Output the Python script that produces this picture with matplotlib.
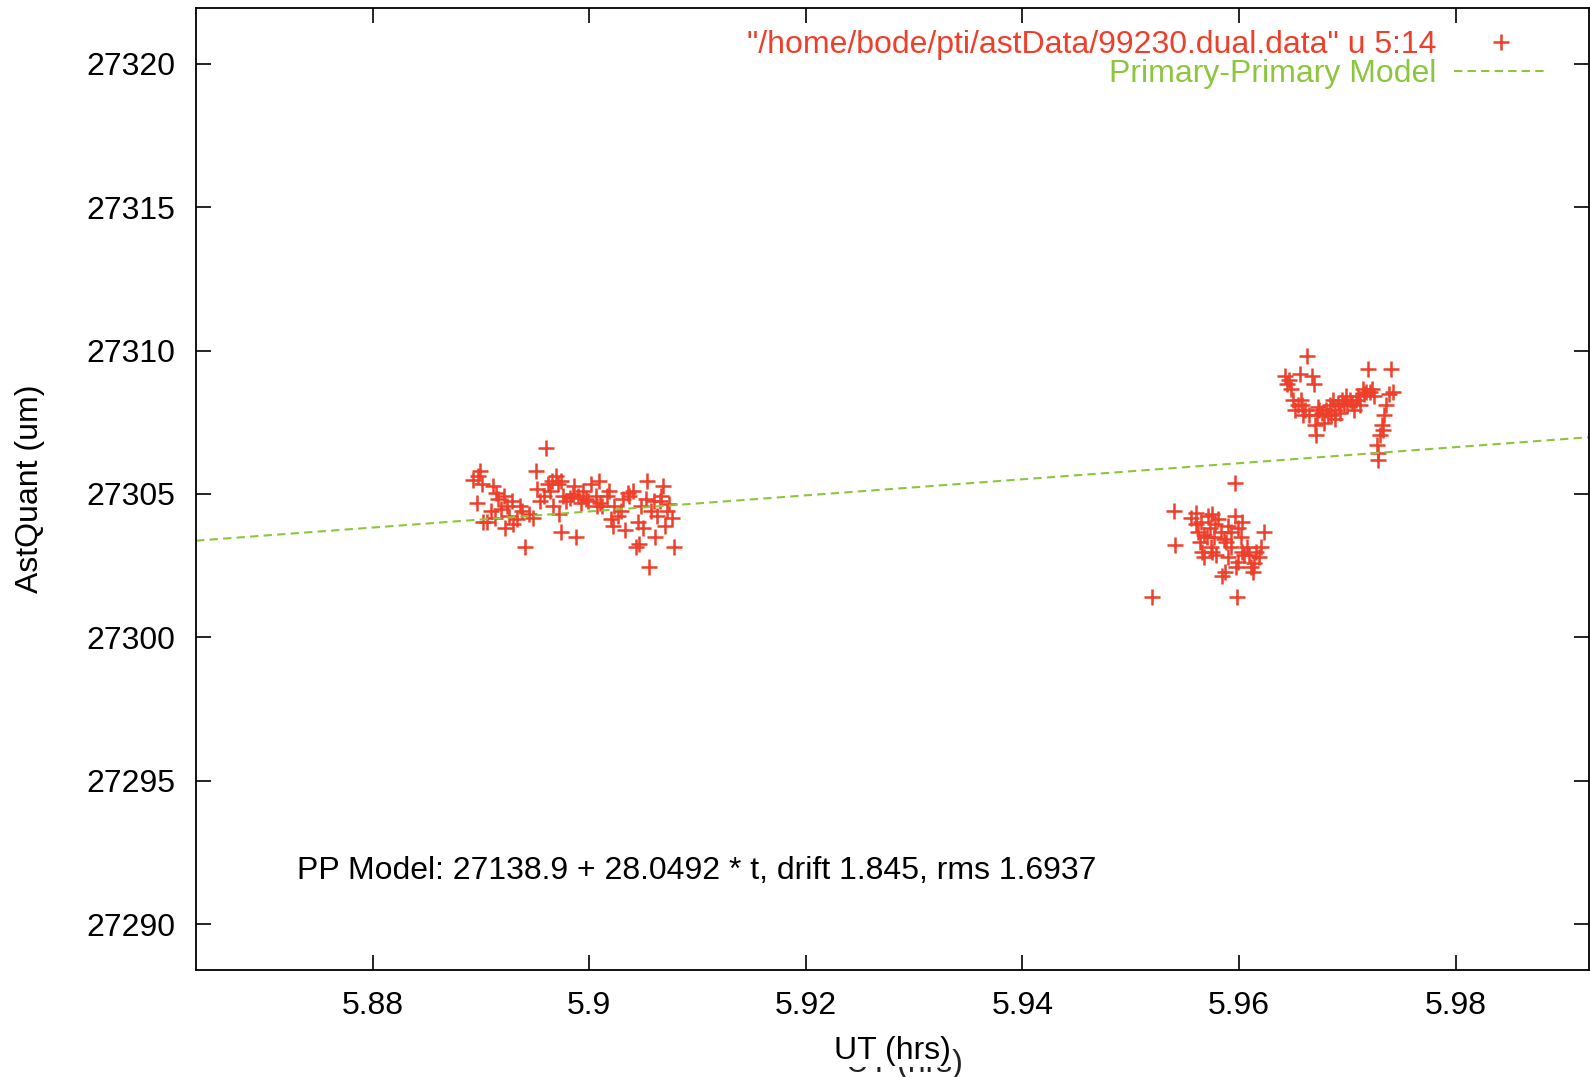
import matplotlib
matplotlib.use('Agg')
import matplotlib.pyplot as plt
import numpy as np

plt.rcParams['font.family'] = ['Liberation Sans', 'DejaVu Sans']

# astrometric quantity vs UT, three groups of scans
ut1 = [5.8893, 5.8899, 5.8897, 5.8901, 5.8896, 5.8902, 5.8906, 5.8911, 5.8914, 5.8916,
       5.8909, 5.8913, 5.8921, 5.8924, 5.8919, 5.8926, 5.8922, 5.8930, 5.8933, 5.8929,
       5.8936, 5.8941, 5.8938, 5.8944, 5.8948, 5.8951, 5.8952, 5.8955, 5.8958, 5.8960,
       5.8962, 5.8966, 5.8964, 5.8969, 5.8971, 5.8974, 5.8967, 5.8972, 5.8976, 5.8974,
       5.8979, 5.8982, 5.8985, 5.8986, 5.8988, 5.8990, 5.8992, 5.8994, 5.8997, 5.8999,
       5.9002, 5.9006, 5.9009, 5.9007, 5.9010, 5.9012, 5.9016, 5.9018, 5.9020, 5.9022,
       5.9023, 5.9027, 5.9029, 5.9031, 5.9036, 5.9037, 5.9040, 5.9043, 5.9046, 5.9045,
       5.9048, 5.9050, 5.9052, 5.9053, 5.9055, 5.9057, 5.9060, 5.9063, 5.9065, 5.9066,
       5.9068, 5.9070, 5.9072, 5.9074, 5.9076, 5.9078, 5.9061, 5.9033]
aq1 = [27305.50, 27305.81, 27305.64, 27305.35, 27304.68, 27304.04, 27304.04, 27305.28, 27305.04, 27304.82,
       27304.40, 27304.15, 27304.93, 27304.58, 27304.47, 27304.22, 27303.80, 27303.97, 27304.12, 27304.75,
       27304.58, 27303.16, 27304.40, 27304.29, 27304.15, 27305.81, 27305.18, 27304.75, 27304.93, 27306.59,
       27305.35, 27305.46, 27305.11, 27305.64, 27305.35, 27305.46, 27304.58, 27304.29, 27304.93, 27303.69,
       27304.75, 27304.86, 27305.00, 27305.28, 27303.51, 27304.93, 27304.68, 27305.11, 27304.82, 27304.75,
       27305.35, 27304.93, 27305.46, 27304.58, 27304.68, 27304.58, 27304.93, 27305.11, 27304.12, 27303.87,
       27304.58, 27304.22, 27304.40, 27304.82, 27305.04, 27304.93, 27305.11, 27303.16, 27303.27, 27304.04,
       27304.58, 27303.80, 27304.82, 27305.46, 27302.45, 27304.40, 27304.75, 27304.22, 27304.75, 27304.93,
       27305.28, 27303.87, 27304.40, 27304.65, 27304.15, 27303.16, 27303.51, 27303.76]

ut2 = [5.9520, 5.9540, 5.9541, 5.9596, 5.9598, 5.9560, 5.9556, 5.9565, 5.9571, 5.9575,
       5.9578, 5.9581, 5.9562, 5.9568, 5.9570, 5.9573, 5.9577, 5.9583, 5.9586, 5.9590,
       5.9593, 5.9596, 5.9599, 5.9602, 5.9603, 5.9566, 5.9568, 5.9575, 5.9579, 5.9584,
       5.9590, 5.9593, 5.9597, 5.9599, 5.9603, 5.9605, 5.9607, 5.9609, 5.9611, 5.9613,
       5.9614, 5.9616, 5.9618, 5.9623, 5.9620, 5.9587, 5.9574, 5.9564, 5.9560, 5.9588]
aq2 = [27301.39, 27304.40, 27303.23, 27305.39, 27301.39, 27304.33, 27304.15, 27304.04, 27304.22, 27304.29,
       27303.94, 27304.12, 27303.69, 27303.58, 27303.51, 27303.80, 27303.51, 27303.66, 27303.44, 27303.87,
       27303.69, 27304.22, 27303.80, 27303.51, 27304.04, 27302.98, 27302.81, 27302.98, 27302.88, 27302.13,
       27302.81, 27303.16, 27302.45, 27302.63, 27302.98, 27302.88, 27303.16, 27302.88, 27302.45, 27302.27,
       27302.59, 27302.98, 27302.81, 27303.69, 27303.16, 27302.27, 27303.16, 27303.34, 27303.94, 27303.34]

ut3 = [5.9642, 5.9644, 5.9646, 5.9648, 5.9650, 5.9652, 5.9654, 5.9656, 5.9658, 5.9659,
       5.9661, 5.9663, 5.9665, 5.9667, 5.9669, 5.9670, 5.9671, 5.9672, 5.9674, 5.9677,
       5.9680, 5.9682, 5.9684, 5.9685, 5.9687, 5.9689, 5.9691, 5.9693, 5.9695, 5.9697,
       5.9699, 5.9700, 5.9702, 5.9704, 5.9706, 5.9708, 5.9710, 5.9712, 5.9714, 5.9715,
       5.9717, 5.9719, 5.9721, 5.9723, 5.9725, 5.9727, 5.9728, 5.9730, 5.9732, 5.9734,
       5.9736, 5.9738, 5.9740, 5.9742, 5.9728, 5.9733, 5.9673, 5.9657, 5.9678, 5.9689]
aq3 = [27309.11, 27308.82, 27308.96, 27308.65, 27308.29, 27307.94, 27308.11, 27309.18, 27308.11, 27307.76,
       27307.94, 27309.81, 27307.76, 27309.11, 27308.82, 27307.41, 27307.05, 27307.76, 27307.94, 27307.83,
       27307.94, 27307.76, 27308.11, 27307.76, 27308.29, 27307.94, 27308.19, 27307.83, 27308.29, 27308.11,
       27308.40, 27308.11, 27308.29, 27308.19, 27307.94, 27308.29, 27308.40, 27308.11, 27308.65, 27308.47,
       27308.54, 27309.35, 27308.54, 27308.65, 27308.40, 27306.70, 27306.17, 27307.05, 27307.41, 27307.76,
       27308.11, 27308.47, 27309.35, 27308.54, 27306.42, 27307.23, 27308.04, 27308.29, 27307.48, 27307.62]

ut = np.array(ut1 + ut2 + ut3)
aq = np.array(aq1 + aq2 + aq3)

# primary-primary model fit
pp_a = 27138.9
pp_b = 28.0492
pp_drift = 1.845
pp_rms = 1.6937

xlo, xhi = 5.8637, 5.9923
ylo, yhi = 27288.4, 27321.95

red = '#ee3f2a'
green = '#8cc63f'
fs = 23

fig = plt.figure(figsize=(15.9, 10.77), dpi=100)
ax = fig.add_axes([0.1233, 0.0994, 0.8760, 0.8932])

ax.plot(ut, aq, '+', color=red, markersize=12, markeredgewidth=1.8,
        label='"/home/bode/pti/astData/99230.dual.data" u 5:14')
t = np.linspace(xlo, xhi, 200)
ax.plot(t, pp_a + pp_b * t, '--', color=green, linewidth=1.5, dashes=(4, 2.5),
        label='Primary-Primary Model')

ax.set_xlim(xlo, xhi)
ax.set_ylim(ylo, yhi)
ax.set_xticks([5.88, 5.9, 5.92, 5.94, 5.96, 5.98])
ax.set_xticklabels(['5.88', '5.9', '5.92', '5.94', '5.96', '5.98'])
ax.set_yticks([27290, 27295, 27300, 27305, 27310, 27315, 27320])
ax.tick_params(direction='in', length=11, width=1.2, top=True, right=True,
               labelsize=fs, pad=15)
for s in ax.spines.values():
    s.set_linewidth(1.3)

ax.set_ylabel('AstQuant (um)', fontsize=fs, labelpad=30)
xl = ax.set_xlabel('UT (hrs)', fontsize=fs, labelpad=11)
xl.set_bbox(dict(facecolor='white', edgecolor='none', pad=0.5))
# doubled label peeking out below the real one
fig.text(0.5686, 0.012, 'UT (hrs)', fontsize=fs, ha='center', va='center',
         color='#222222', zorder=-1)

ax.text(5.873, 27291.85, 'PP Model: %.1f + %.4f * t, drift %.3f, rms %.4f' % (pp_a, pp_b, pp_drift, pp_rms),
        fontsize=fs, ha='left', va='center')

leg = ax.legend(loc='upper right', bbox_to_anchor=(0.979, 0.99), frameon=False,
                markerfirst=False, fontsize=fs, handlelength=2.9, handletextpad=0.55,
                labelspacing=-0.05, borderaxespad=0.0)
for txt, c in zip(leg.get_texts(), [red, green]):
    txt.set_color(c)

fig.savefig('out.png', dpi=100)
